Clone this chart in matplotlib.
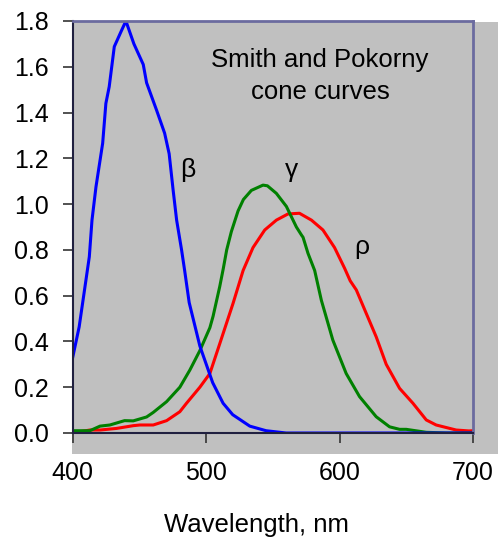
import matplotlib.pyplot as plt
from matplotlib.patches import Rectangle

plt.rcParams['font.family'] = ['Liberation Sans', 'DejaVu Sans']

# beta (short-wave) cone curve
beta_wl = [400, 405, 412.6, 414.6, 417.6, 422.6, 425, 427.5, 431.3, 436.3, 440, 446, 453,
           455.5, 463, 469, 472.4, 475.4, 478, 481.7, 484, 487.4, 495.4, 505, 512.8, 520,
           532.8, 545, 560, 600, 650, 700]
beta_val = [0.326, 0.464, 0.77, 0.93, 1.076, 1.266, 1.44, 1.513, 1.688, 1.753, 1.80, 1.70,
            1.61, 1.53, 1.41, 1.31, 1.22, 1.06, 0.93, 0.80, 0.71, 0.57, 0.38, 0.22, 0.13,
            0.08, 0.03, 0.01, 0.0, 0.0, 0.0, 0.0]

# gamma (middle-wave) cone curve
gamma_wl = [400, 413, 420.6, 428, 439, 445.5, 455.5, 460.5, 470.5, 480.4, 487.9, 495.4,
            502.9, 505.3, 510.3, 513, 515.5, 519, 524, 528, 534, 542.7, 546, 552.7, 560.2,
            567.7, 571.5, 572.7, 576.4, 581.4, 586.4, 595, 605, 615, 627.5, 637.5, 645,
            650, 665, 680, 700]
gamma_val = [0.01, 0.01, 0.03, 0.035, 0.054, 0.053, 0.07, 0.09, 0.137, 0.20, 0.275, 0.36,
             0.46, 0.51, 0.64, 0.72, 0.80, 0.88, 0.97, 1.02, 1.06, 1.083, 1.08, 1.047, 0.99,
             0.90, 0.865, 0.855, 0.785, 0.71, 0.58, 0.406, 0.26, 0.159, 0.071, 0.027, 0.016,
             0.016, 0.003, 0.0, 0.0]

# rho (long-wave) cone curve
rho_wl = [400, 413, 420.6, 433, 445.5, 450.5, 460.5, 470.5, 480.4, 485.4, 495.4, 502.9,
          510.3, 520.3, 527.8, 535.2, 544, 552.7, 561.4, 570, 579, 587.6, 596.3, 603.8,
          608, 612.6, 620, 627.5, 635, 645, 655, 665, 672.4, 687.4, 697, 700]
rho_val = [0.0, 0.013, 0.013, 0.02, 0.032, 0.035, 0.035, 0.054, 0.093, 0.13, 0.20, 0.26,
           0.39, 0.567, 0.71, 0.81, 0.887, 0.93, 0.957, 0.96, 0.93, 0.887, 0.81, 0.72,
           0.665, 0.625, 0.523, 0.42, 0.30, 0.195, 0.13, 0.057, 0.035, 0.013, 0.009, 0.01]

x_ticks = [400, 500, 600, 700]
y_ticks = [0.0, 0.2, 0.4, 0.6, 0.8, 1.0, 1.2, 1.4, 1.6, 1.8]

W, H = 498, 538
fig = plt.figure(figsize=(W / 100, H / 100), dpi=100)

ax = fig.add_axes([72.5 / W, 105 / H, 400.5 / W, 412 / H])
ax.set_facecolor('#c0c0c0')

# grey plot-area panel that sticks out beyond the axes
ax.add_patch(Rectangle((72 / W, 1 - 454 / H), (W - 72) / W, (454 - 22) / H,
                       transform=fig.transFigure, facecolor='#c0c0c0',
                       edgecolor='none', zorder=-10, clip_on=False))

ax.plot(rho_wl, rho_val, color='#ff0000', lw=2.2)
ax.plot(gamma_wl, gamma_val, color='#008000', lw=2.2)
ax.plot(beta_wl, beta_val, color='#0000ff', lw=2.2)

ax.set_xlim(400, 700)
ax.set_ylim(0, 1.8)
ax.set_xticks(x_ticks)
ax.set_yticks(y_ticks)
ax.set_yticklabels([f'{v:.1f}' for v in y_ticks])
ax.tick_params(axis='both', labelsize=18, direction='out', length=7, width=1.2,
               color='#333333', pad=10)
ax.tick_params(axis='x', pad=13)

for s in ['top', 'right']:
    ax.spines[s].set_color('#6b6b9f')
    ax.spines[s].set_linewidth(2)
for s in ['left', 'bottom']:
    ax.spines[s].set_color('#202040')
    ax.spines[s].set_linewidth(1.5)

fig.text(320 / W, 1 - 67 / H, 'Smith and Pokorny', ha='center', va='baseline',
         fontsize=18.5)
fig.text(320 / W, 1 - 99 / H, 'cone curves', ha='center', va='baseline',
         fontsize=18.5)
ax.text(486.4, 1.118, 'β', fontsize=19, ha='center', va='baseline')
ax.text(564.2, 1.118, 'γ', fontsize=19, ha='center', va='baseline')
ax.text(616.9, 0.784, 'ρ', fontsize=19, ha='center', va='baseline')

fig.text(257 / W, 1 - 525 / H, 'Wavelength, nm', ha='center', va='center', fontsize=18.5)

fig.savefig('out.png', dpi=100)
